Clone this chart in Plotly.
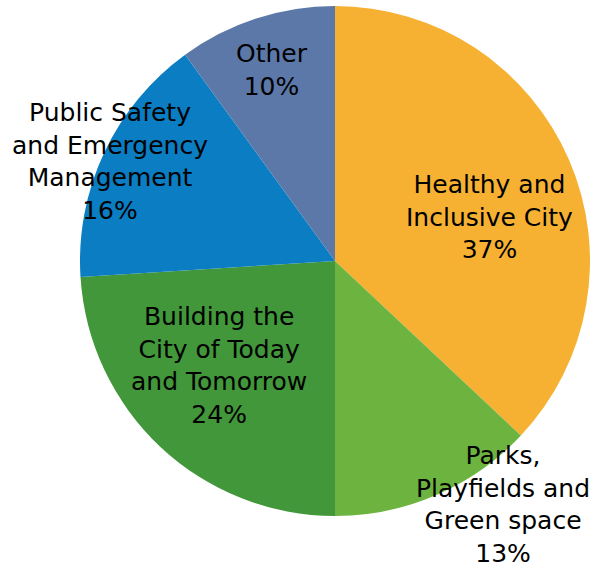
import plotly.graph_objects as go

# Share of spending by priority area
categories = [
    "Healthy and Inclusive City",
    "Parks, Playfields and Green space",
    "Building the City of Today and Tomorrow",
    "Public Safety and Emergency Management",
    "Other",
]
label_lines = [
    ["Healthy and", "Inclusive City"],
    ["Parks,", "Playfields and", "Green space"],
    ["Building the", "City of Today", "and Tomorrow"],
    ["Public Safety", "and Emergency", "Management"],
    ["Other"],
]
shares = [37, 13, 24, 16, 10]
colors = ["#F6B133", "#6DB33F", "#41973A", "#0B7DC3", "#5B78A8"]

# label anchor points in paper coordinates
label_pos = [
    (0.830, 0.618),
    (0.853, 0.114),
    (0.371, 0.357),
    (0.187, 0.717),
    (0.461, 0.877),
]

W, H = 590, 569
cx, cy, r = 335, 261, 255

fig = go.Figure(
    go.Pie(
        labels=categories,
        values=shares,
        sort=False,
        direction="clockwise",
        rotation=0,
        marker=dict(colors=colors, line=dict(width=0)),
        textinfo="none",
        hoverinfo="label+percent",
        showlegend=False,
        domain=dict(
            x=[(cx - r) / W, min(1.0, (cx + r) / W)],
            y=[(H - cy - r) / H, (H - cy + r) / H],
        ),
    )
)

for lines, v, (x, y) in zip(label_lines, shares, label_pos):
    fig.add_annotation(
        x=x, y=y, xref="paper", yref="paper",
        text="<br>".join(lines + [f"{v}%"]),
        showarrow=False,
        xanchor="center", yanchor="middle",
        align="center",
        font=dict(family="DejaVu Sans", size=25, color="#000000"),
    )

fig.update_layout(
    width=W, height=H,
    margin=dict(l=0, r=0, t=0, b=0),
    paper_bgcolor="white",
    plot_bgcolor="white",
)

fig.write_html("out.html")
